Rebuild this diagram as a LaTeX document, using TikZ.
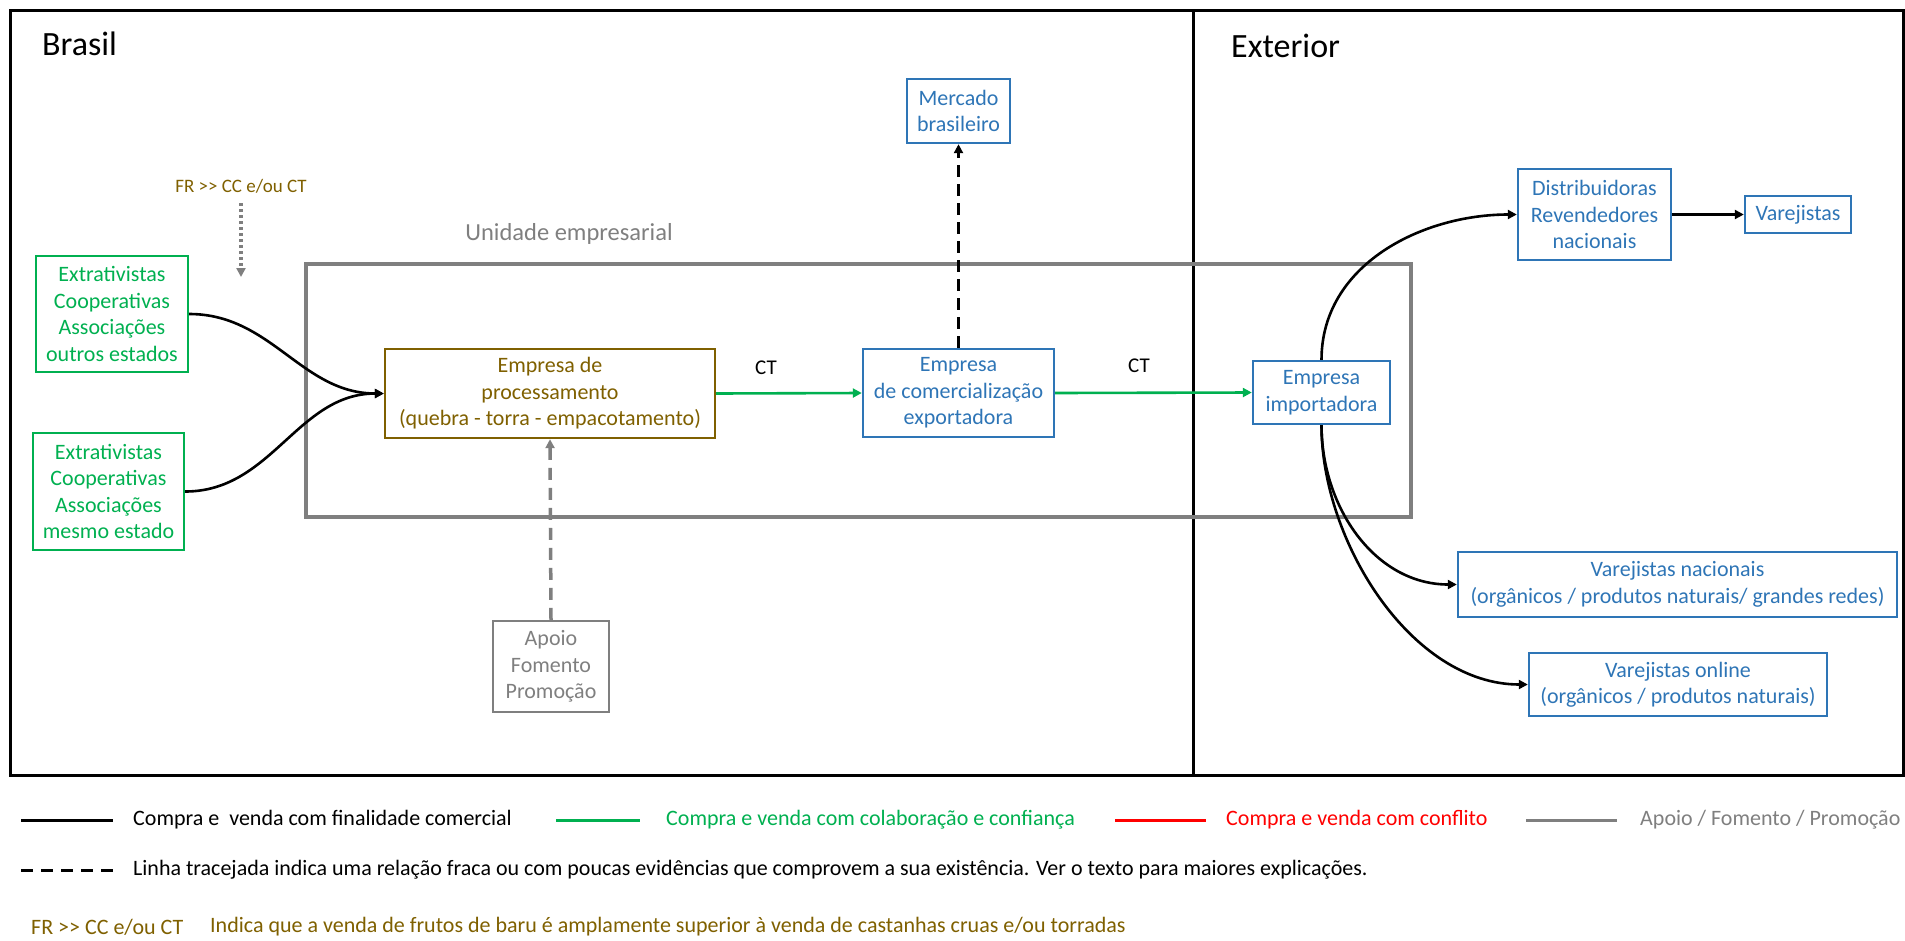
\documentclass[tikz,border=0pt]{standalone}
\usepackage{fontspec}
\setmainfont{Carlito}
\usetikzlibrary{arrows.meta}
\definecolor{cgreen}{HTML}{00B050}
\definecolor{cblue}{HTML}{2E75B6}
\definecolor{cbrown}{HTML}{7F6000}
\definecolor{cgray}{HTML}{7F7F7F}
\definecolor{cred}{HTML}{FF0000}
\begin{document}
\begin{tikzpicture}[x=1pt,y=-1pt,
  box/.style={draw,line width=2.4pt,rectangle,inner sep=0pt,align=center,
    font=\fontsize{22}{26.5}\selectfont},
  gbox/.style={box,draw=cgreen,text=cgreen},
  bbox/.style={box,draw=cblue,text=cblue},
  brbox/.style={box,draw=cbrown,text=cbrown},
  graybox/.style={box,draw=cgray,text=cgray},
  tip/.style={-{Triangle[length=9pt,width=9pt]}},
  conn/.style={tip,line width=2.6pt},
  leg/.style={anchor=west,inner sep=0pt,font=\fontsize{22}{26}\selectfont},
  lbl/.style={inner sep=0pt,font=\fontsize{21}{25}\selectfont}
]
\useasboundingbox (0,0) rectangle (1905,940);
% frames
\draw[line width=3pt] (10,10) rectangle (1903,775);
\draw[line width=3pt] (1193,10) -- (1193,775);
\draw[cgray,line width=3.5pt] (306,264) rectangle (1411,517);
\node[anchor=base west,inner sep=0pt,font=\fontsize{34}{38}\selectfont] (brasil) at (42,55) {Brasil};
\node[anchor=base west,inner sep=0pt,font=\fontsize{34}{38}\selectfont] (exterior) at (1231,57) {Exterior};
\node[inner sep=0pt,text=cgray,font=\fontsize{24.5}{28}\selectfont] (unid) at (569,234) {Unidade empresarial};
\node[inner sep=0pt,text=cbrown,font=\fontsize{19}{22}\selectfont] (fr) at (241,186) {FR >{}> CC e/ou CT};
\coordinate (frend) at (241,277);
% boxes
\node[gbox,minimum width=152pt,minimum height=116pt] (g1) at (112,314) {Extrativistas\\Cooperativas\\Associações\\outros estados};
\node[gbox,minimum width=151pt,minimum height=117pt] (g2) at (108.5,491.5) {Extrativistas\\Cooperativas\\Associações\\mesmo estado};
\node[brbox,minimum width=330pt,minimum height=89pt] (proc) at (550,393.5) {Empresa de\\processamento\\(quebra - torra - empacotamento)};
\node[bbox,minimum width=191pt,minimum height=88pt] (com) at (958.5,393) {Empresa\\de comercialização\\exportadora};
\node[bbox,minimum width=103pt,minimum height=64pt] (merc) at (958.5,111) {Mercado\\brasileiro};
\node[bbox,minimum width=137pt,minimum height=63pt] (imp) at (1321.5,392.5) {Empresa\\importadora};
\node[bbox,minimum width=153pt,minimum height=91pt] (dist) at (1594.5,214.5) {Distribuidoras\\Revendedores\\nacionais};
\node[bbox,minimum width=106pt,minimum height=37pt] (var) at (1798,214.5) {Varejistas};
\node[bbox,minimum width=439pt,minimum height=65pt] (vn) at (1677.5,584.5) {Varejistas nacionais\\(orgânicos / produtos naturais/ grandes redes)};
\node[bbox,minimum width=298pt,minimum height=63pt] (vo) at (1678,684.5) {Varejistas online\\(orgânicos / produtos naturais)};
\node[graybox,minimum width=116pt,minimum height=91pt] (apoio) at (551,666.5) {Apoio\\Fomento\\Promoção};
\node[lbl] (ct1) at (766,368) {CT};
\node[lbl] (ct2) at (1139,366) {CT};
% connectors
\draw[conn] (g1.east) to[out=0,in=180] (proc.west);
\draw[conn] (g2.east) to[out=0,in=180] (proc.west);
\draw[conn,cgreen] (proc.east) -- (com.west);
\draw[conn,cgreen] (com.east) -- (imp.west);
\draw[conn,dash pattern=on 12pt off 7pt,line width=3.5pt] (com.north) -- (merc.south);
\draw[conn,cgray,dash pattern=on 12pt off 8pt,line width=3.5pt] (apoio.north) -- (proc.south);
\draw[tip,cgray,line width=3.5pt,dash pattern=on 3pt off 3pt] (fr.south)++(0,10) -- (frend);
\draw[conn] (imp.north) to[out=90,in=180] (dist.west);
\draw[conn,line width=3.2pt] (dist.east) -- (var.west);
\draw[conn] (imp.south) to[out=-90,in=180] (vn.west);
\draw[conn] (imp.south) to[out=-90,in=180,looseness=0.9] (vo.west);
% legend
\draw[line width=3pt] (21,820) -- (113,820);
\node[leg] (l1) at (133,820) {Compra e\ \ venda com finalidade comercial};
\draw[cgreen,line width=3pt] (556,820) -- (640,820);
\node[leg,text=cgreen] (l2) at (666,820) {Compra e venda com colaboração e confiança};
\draw[cred,line width=3pt] (1115,820) -- (1206,820);
\node[leg,text=cred] (l3) at (1226,820) {Compra e venda com conflito};
\draw[cgray,line width=3pt] (1526,820) -- (1617,820);
\node[leg,text=cgray] (l4) at (1640,820) {Apoio / Fomento / Promoção};
\draw[line width=3pt,dash pattern=on 12pt off 8pt] (21,870) -- (113,870);
\node[leg] (l5) at (133,870) {Linha tracejada indica uma relação fraca ou com poucas evidências que comprovem a sua existência. Ver o texto para maiores explicações.};
\node[leg,text=cbrown] (l6) at (31,927) {FR >{}> CC e/ou CT};
\node[leg,text=cbrown] (l7) at (210,927) {Indica que a venda de frutos de baru é amplamente superior à venda de castanhas cruas e/ou torradas};
\end{tikzpicture}
\end{document}
